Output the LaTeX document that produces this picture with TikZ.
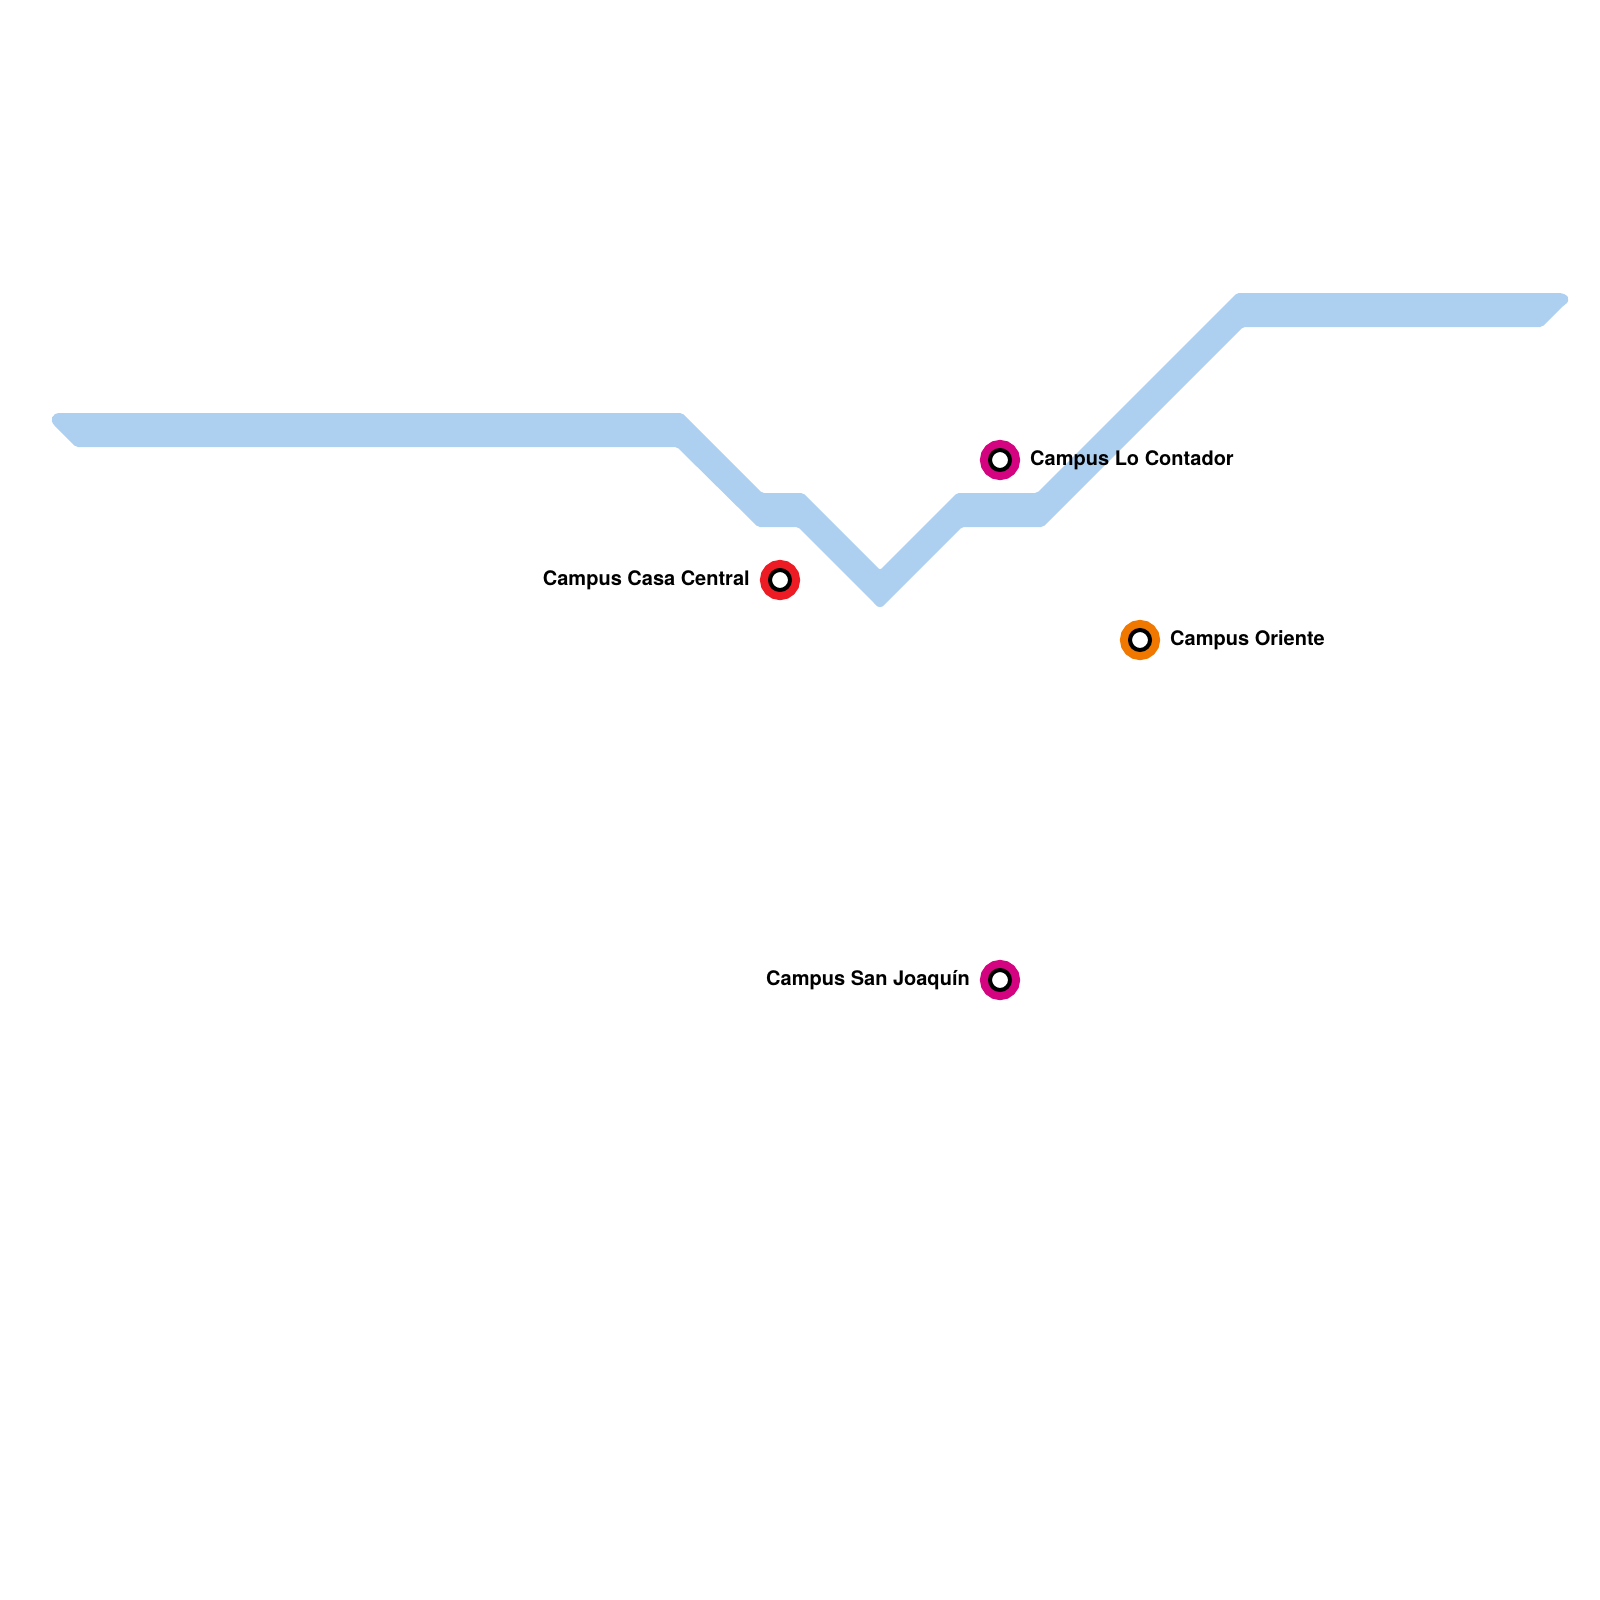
\documentclass[tikz,border=0pt]{standalone}
\usepackage{fontspec}
\setmainfont{TeX Gyre Heros}
\usetikzlibrary{positioning}
\definecolor{metroblue}{HTML}{ADD0F1}
\definecolor{metromagenta}{HTML}{D4037F}
\definecolor{metrored}{HTML}{ED1C24}
\definecolor{metroorange}{HTML}{F07800}

\begin{document}
\begin{tikzpicture}[
    x=1pt, y=-1pt,
    node distance=18pt,
    station/.style={circle, draw=black, fill=white, line width=4pt, inner sep=0pt, minimum size=20pt, preaction={draw=#1, line width=20pt}},
    stationlabel/.style={inner sep=0pt, font=\fontsize{20}{24}\selectfont\bfseries}
]
    \useasboundingbox (0,0) rectangle (1600,1600);

    \fill[metroblue, rounded corners=2pt]
        (300,413) -- (682,413) -- (762,493) -- (803,493) -- (880,570) -- (957,493) -- (1037,493) -- (1237,293)
        -- (1556,293) .. controls (1568,293) and (1572,300) .. (1563,306) -- (1542,327) -- (1243,327) -- (1043,527) -- (962,527)
        -- (885,604) .. controls (882,607.5) and (878,607.5) .. (875,604) -- (798,527) -- (758,527) -- (677,447) -- (76,447)
        -- (56,427) .. controls (49,420) and (52,413) .. (62,413) -- cycle;

    \node[station=metrored] (casacentral) at (780,580) {};
    \node[station=metromagenta] (locontador) at (1000,460) {};
    \node[station=metroorange] (oriente) at (1140,640) {};
    \node[station=metromagenta] (sanjoaquin) at (1000,980) {};

    \node[stationlabel, left=of casacentral] (casacentrallabel) {Campus Casa Central};
    \node[stationlabel, right=of locontador] (locontadorlabel) {Campus Lo Contador};
    \node[stationlabel, right=of oriente] (orientelabel) {Campus Oriente};
    \node[stationlabel, left=of sanjoaquin] (sanjoaquinlabel) {Campus San Joaquín};
\end{tikzpicture}
\end{document}
